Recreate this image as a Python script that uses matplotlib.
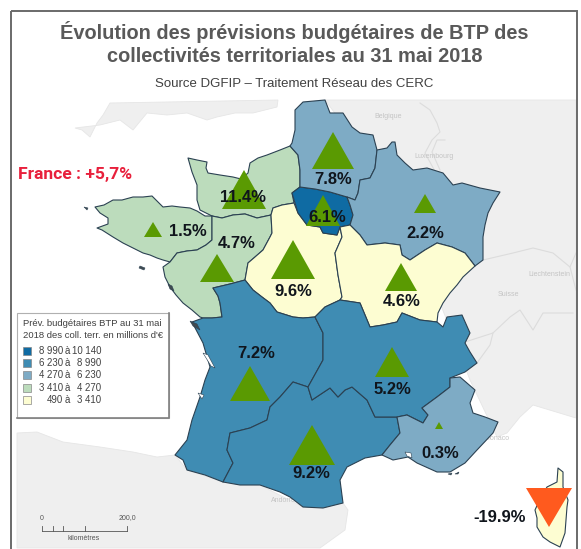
import matplotlib
matplotlib.use('Agg')
import matplotlib.pyplot as plt
from matplotlib.patches import Polygon, Rectangle

# Region outlines
normandie = [(188,158),(197,160),(207,162),(206,168),(208,173),(220,175),(233,177),(241,179),(248,173),(250,163),(258,158),(267,155),(280,150),(290,146),
             (298,155),(300,170),(300,187),(292,193),(294,203),(282,205),(273,208),(271,215),(257,218),(245,214),(233,215),(222,218),(212,216),(200,210),(197,200),(197,185),(192,172)]
bretagne = [(95,207),(104,205),(113,200),(122,200),(133,197),(143,197),(152,196),(158,202),(163,207),(172,206),(180,207),(190,208),(197,211),(205,216),(212,216),
            (212,240),(206,245),(197,250),(187,251),(177,253),(170,262),(163,260),(157,258),(150,255),(143,253),(133,248),(123,243),(113,237),(102,230),(97,228),(108,224),(108,218),(100,213)]
pays_loire = [(212,216),(222,218),(233,215),(245,214),(257,218),(271,215),(272,233),(270,237),(263,250),(255,257),(248,263),(245,280),(230,284),(213,288),
              (218,296),(220,303),(222,317),(212,318),(203,318),(200,317),(192,310),(183,303),(176,295),(170,287),(165,277),(163,267),(170,262),(177,253),(187,251),(197,250),(206,245),(212,240)]
centre = [(294,203),(298,213),(307,225),(320,227),(323,233),(337,235),(340,227),(342,237),(335,253),(338,275),(342,297),(340,300),(325,307),(315,317),(303,318),(293,317),
          (277,312),(270,303),(262,297),(253,290),(245,280),(248,263),(255,257),(263,250),(270,237),(272,233),(271,215),(273,208),(282,205)]
ile_france = [(292,193),(300,187),(315,189),(330,192),(347,197),(350,205),(353,215),(350,225),(340,227),(337,235),(323,233),(320,227),(307,225),(298,213)]
hauts_france = [(290,146),(292,143),(295,130),(295,110),(303,102),(325,100),(330,113),(343,113),(352,127),(360,133),(373,135),(377,150),(375,168),(370,178),(360,180),(358,193),(355,200),(347,197),
                (330,192),(315,189),(300,187),(300,170),(298,155)]
grand_est = [(377,150),(387,148),(392,142),(395,142),(397,155),(405,163),(413,170),(427,168),(443,173),(453,185),(462,183),(480,188),(500,192),(493,203),(488,213),(485,225),(483,237),(483,260),(475,266),
             (465,253),(452,247),(437,243),(425,250),(410,260),(402,255),(400,245),(385,243),(367,245),(360,235),(350,225),(353,215),(350,205),(347,197),(355,200),(358,193),(360,180),(370,178),(375,168)]
bourgogne = [(340,227),(350,225),(360,235),(367,245),(385,243),(400,245),(402,255),(410,260),(425,250),(437,243),(452,247),(465,253),(475,266),(463,277),(457,285),(450,293),(443,303),(438,313),(437,322),
             (420,320),(402,313),(397,322),(383,325),(370,327),(360,303),(340,300),(342,297),(338,275),(335,253),(342,237)]
aquitaine = [(203,318),(212,318),(222,317),(220,303),(218,296),(213,288),(230,284),(245,280),(253,290),(262,297),(270,303),(277,312),(293,317),(303,318),(315,317),(323,333),(323,360),(308,387),(293,382),(280,397),
             (270,407),(267,420),(250,428),(230,433),(227,450),(233,463),(223,482),(205,475),(187,470),(183,460),(175,455),(187,440),(192,420),(200,397),(205,380),(210,367),(203,343),(192,322)]
occitanie = [(308,387),(293,382),(280,397),(270,407),(267,420),(250,428),(230,433),(227,450),(233,463),(223,482),(240,485),(260,485),(280,492),(290,497),(303,507),(323,508),(343,503),(340,480),(347,467),(365,458),
             (382,455),(390,445),(400,433),(397,417),(375,417),(367,400),(352,387),(345,390),(338,397),(330,388),(312,400)]
auvergne = [(315,317),(325,307),(340,300),(360,303),(370,327),(383,325),(397,322),(402,313),(420,320),(437,322),(443,327),(447,317),(462,315),(470,333),(465,343),(470,352),(477,363),(465,372),(450,378),(450,387),(437,397),(422,408),
            (428,415),(423,423),(407,415),(397,417),(375,417),(367,400),(352,387),(345,390),(338,397),(330,388),(312,400),(308,387),(323,360),(323,333)]
paca = [(450,378),(460,377),(475,390),(470,403),(473,413),(485,417),(498,422),(493,433),(477,450),(465,463),(450,472),(437,472),(417,463),(408,457),(393,460),(382,455),(390,445),(400,433),(397,417),(407,415),(423,423),(428,415),(422,408),(437,397),(450,387)]
corse = [(558,468),(563,472),(563,487),(568,500),(567,507),(566,520),(565,533),(560,547),(550,542),(543,537),(537,527),(537,518),(535,510),(541,497),(547,487),(557,482)]

# Neighbouring land and water
uk = [(75,128),(82,130),(90,137),(97,123),(103,115),(110,103),(278,100),(277,107),(253,113),(235,113),(217,117),(207,120),(187,113),(167,115),(147,113),(133,130),(120,120),(100,125)]
europe = [(325,100),(576,100),(576,418),(533,405),(520,417),(507,433),(497,437),(470,380),(400,200),(340,120)]
spain = [(17,433),(37,432),(63,442),(100,447),(133,452),(157,457),(175,455),(187,470),(223,482),(260,485),(303,507),(343,503),(348,510),(345,530),(320,548),(17,548)]
water = [[(203,353),(208,355),(215,368),(211,366)], [(198,393),(204,395),(202,399)], [(405,452),(411,453),(412,458),(407,456)]]
islands = [[(84,207),(88,208),(87,210)], [(140,266),(145,268),(144,270),(139,268)], [(168,284),(172,286),(174,291),(170,289)],
           [(190,321),(197,324),(200,330),(193,326)], [(448,474),(452,473),(451,475)], [(455,474),(459,472),(458,474)]]
borders = [[(420,103),(430,110),(437,123),(440,132),(432,140),(425,153),(437,175)],
           [(445,140),(437,140),(432,152),(440,170)],
           [(483,260),(513,253),(533,248),(553,253),(570,267),(576,253)],
           [(465,342),(493,333),(510,317),(520,310),(533,330),(543,313),(573,313)],
           [(477,363),(490,345),(493,333)],
           [(570,267),(576,290)]]

region_shapes = [normandie, bretagne, pays_loire, centre, ile_france, hauts_france, grand_est, bourgogne, aquitaine, occitanie, auvergne, paca, corse]
region_class = [3, 3, 3, 4, 0, 2, 2, 4, 1, 1, 1, 2, 4]

class_low = ['8 990', '6 230', '4 270', '3 410', '490']
class_high = ['10 140', '8 990', '6 230', '4 270', '3 410']
class_colors = ['#0f6ba3', '#3f8cb3', '#7eabc5', '#bcdcbc', '#fdfdd2']

# Triangles: apex x/y and base y, half width, one per region
tri_x = [244, 153, 217, 293, 323, 333, 425, 401, 250, 312, 392, 439, 549]
tri_top = [170, 222, 254, 240, 195, 132, 194, 263, 366, 425, 347, 422, 527]
tri_base = [209, 237, 282, 279, 226, 169, 213, 291, 401, 465, 377, 429, 488]
tri_half = [22, 9, 17, 22, 17, 21, 11, 16, 20, 23, 17, 4, 23]
tri_colors = ['#5a9a02'] * 12 + ['#ff5a1e']

pct_labels = ['11.4%', '1.5%', '4.7%', '9.6%', '6.1%', '7.8%', '2.2%', '4.6%', '7.2%', '9.2%', '5.2%', '0.3%', '-19.9%']
pct_x = [243, 188, 237, 293, 327, 333, 425, 402, 256, 311, 392, 440, 500]
pct_y = [198, 231, 244, 291, 218, 179, 234, 301, 353, 474, 389, 454, 517]

country_labels = ['Belgique', 'Luxembourg', 'Liechtenstein', 'Suisse', 'Andorre', 'Monaco']
country_x = [388, 434, 549, 508, 283, 497]
country_y = [116, 156, 274, 294, 500, 439]

scale_km = [0, 25, 50, 100, 200]

plt.rcParams['font.family'] = ['Liberation Sans', 'DejaVu Sans']

fig = plt.figure(figsize=(5.81, 5.49), dpi=100)
ax = fig.add_axes([0, 0, 1, 1])
ax.set_xlim(0, 581)
ax.set_ylim(549, 0)
ax.axis('off')

# Background land
for shape in [uk, europe, spain]:
    ax.add_patch(Polygon(shape, fc='#efefef', ec='#e6e6e6', lw=0.6, zorder=1))
for line in borders:
    ax.plot([p[0] for p in line], [p[1] for p in line], color='#dcdcdc', lw=0.8, zorder=1.5)
for name, x, y in zip(country_labels, country_x, country_y):
    ax.text(x, y, name, fontsize=5, color='#c4c4c4', ha='center', va='center', zorder=1.6)

# Regions
for shape, c in zip(region_shapes, region_class):
    ax.add_patch(Polygon(shape, fc=class_colors[c], ec='#2b4152', lw=0.8, joinstyle='round', zorder=2))
for shape in water:
    ax.add_patch(Polygon(shape, fc='white', ec='#2b4152', lw=0.4, zorder=2.5))
for shape in islands:
    ax.add_patch(Polygon(shape, fc='#404a50', ec='#2b4152', lw=0.4, zorder=2.5))

# Triangles
for x, top, base, half, col in zip(tri_x, tri_top, tri_base, tri_half, tri_colors):
    ax.add_patch(Polygon([(x, top), (x - half, base), (x + half, base)], fc=col, ec='none', zorder=3))

# Percent labels
for label, x, y in zip(pct_labels, pct_x, pct_y):
    ax.text(x, y, label, fontsize=11.9, fontweight='bold', color='#10151c', ha='center', va='center', zorder=4)

# Title block
ax.text(294, 32, 'Évolution des prévisions budgétaires de BTP des', fontsize=14.4, fontweight='bold', color='#595959', ha='center', va='center', zorder=6)
ax.text(295, 57, 'collectivités territoriales au 31 mai 2018', fontsize=14.4, fontweight='bold', color='#595959', ha='center', va='center', zorder=6)
ax.text(294, 84, 'Source DGFIP – Traitement Réseau des CERC', fontsize=9.5, color='#404040', ha='center', va='center', zorder=6)

ax.text(18, 175, 'France : +5,7%', fontsize=12.6, fontweight='bold', color='#e8203c', family=['Roboto', 'DejaVu Sans'], ha='left', va='center', zorder=6)

# Legend box
ax.add_patch(Rectangle((17, 313), 152, 105, fc='white', ec='#b0b0b0', lw=0.8, zorder=5))
ax.plot([169, 169, 17], [313, 418, 418], color='#808080', lw=1.2, zorder=5.1)
ax.text(23, 323, 'Prév. budgétaires BTP au 31 mai', fontsize=6.8, color='#404040', va='center', zorder=6)
ax.text(23, 335, "2018 des coll. terr. en millions d'€", fontsize=6.8, color='#404040', va='center', zorder=6)
for i, (low, high, col) in enumerate(zip(class_low, class_high, class_colors)):
    y = 351 + i * 12.2
    ax.add_patch(Rectangle((23, y - 4), 8, 8, fc=col, ec='#888888', lw=0.5, zorder=6))
    ax.text(63, y, low, fontsize=6.9, color='#404040', ha='right', va='center', zorder=6)
    ax.text(67.5, y, 'à', fontsize=6.9, color='#404040', ha='center', va='center', zorder=6)
    ax.text(101, y, high, fontsize=6.9, color='#404040', ha='right', va='center', zorder=6)

# Scale bar
scale_x = [42 + km * 0.425 for km in scale_km]
ax.plot([scale_x[0], scale_x[-1]], [531, 531], color='#555555', lw=0.6, zorder=6)
for x in scale_x:
    ax.plot([x, x], [526, 531], color='#555555', lw=0.6, zorder=6)
ax.text(scale_x[0], 518, '0', fontsize=5, color='#555555', ha='center', va='center', zorder=6)
ax.text(scale_x[-1], 518, '200,0', fontsize=5, color='#555555', ha='center', va='center', zorder=6)
ax.text(84, 539, 'kilomètres', fontsize=5, color='#555555', ha='center', va='center', zorder=6)

# Frame, its lower edge is cut off by the picture
ax.add_patch(Rectangle((11, 11), 566, 545, fc='none', ec='#6a6a6a', lw=1.4, zorder=7, clip_on=True))

fig.savefig('out.png', dpi=100)
